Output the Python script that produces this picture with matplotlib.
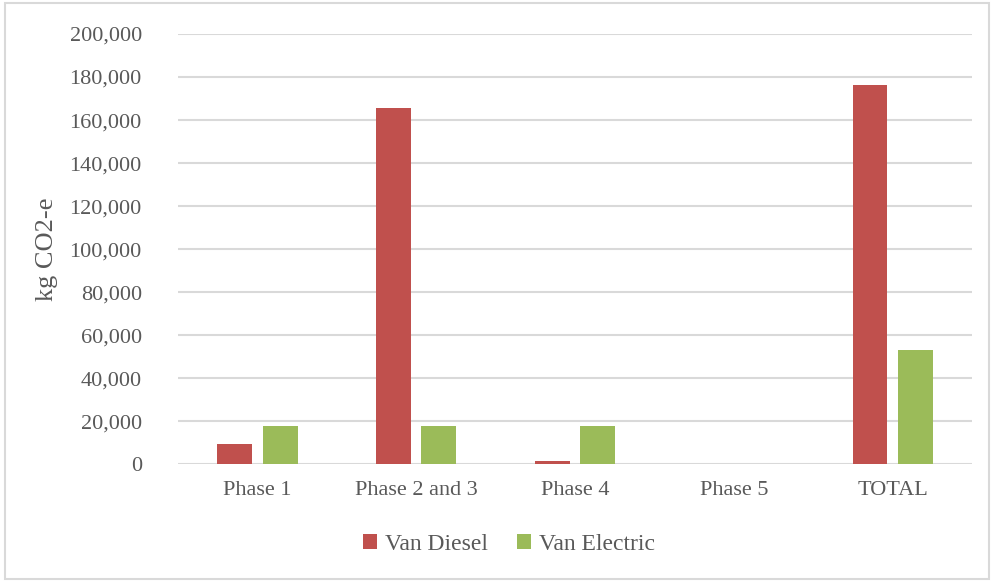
import numpy as np
import matplotlib.pyplot as plt
from matplotlib.patches import Rectangle
from matplotlib.ticker import FuncFormatter

# Emissions per phase (kg CO2-e)
phases = ['Phase 1', 'Phase 2 and 3', 'Phase 4', 'Phase 5', 'TOTAL']
van_diesel = [9300, 165600, 1500, 0, 176400]
van_electric = [17700, 17700, 17700, 0, 53100]

RED = '#c0504d'
GREEN = '#9bbb59'
GRID = '#d9d9d9'
TEXT = '#595959'

plt.rcParams['font.family'] = ['Liberation Serif', 'DejaVu Serif']

fig = plt.figure(figsize=(9.94, 5.82), dpi=100)

# outer chart border
fig.patches.append(Rectangle((0.005, 0.006), 0.99, 0.988, transform=fig.transFigure,
                             fill=False, edgecolor='#d9d9d9', linewidth=1.5))

ax = fig.add_axes([0.179, 0.2022, 0.799, 0.7394])

x = np.arange(len(phases))
w = 0.22
off = 0.143
ax.bar(x - off, van_diesel, w, color=RED, label='Van Diesel', zorder=3)
ax.bar(x + off, van_electric, w, color=GREEN, label='Van Electric', zorder=3)

ax.set_xlim(-0.5, len(phases) - 0.5)
ax.set_ylim(0, 200000)
ax.set_yticks(np.arange(0, 200001, 20000))
ax.yaxis.set_major_formatter(FuncFormatter(lambda v, p: f'{int(v):,}'))
ax.set_xticks(x)
ax.set_xticklabels(phases)

ax.grid(axis='y', color=GRID, linewidth=1.5, zorder=0)
ax.axhline(0, color='#d0d0d0', linewidth=2, zorder=1)
for s in ax.spines.values():
    s.set_visible(False)
ax.tick_params(axis='both', length=0, labelsize=16, colors=TEXT)
ax.tick_params(axis='y', pad=26)
ax.tick_params(axis='x', pad=12)

ax.set_ylabel('kg CO2-e', fontsize=19, color=TEXT, labelpad=8)

fig.legend(loc='center', bbox_to_anchor=(0.512, 0.064), ncol=2, frameon=False,
           fontsize=17, labelcolor=TEXT, handlelength=0.6, handleheight=0.6,
           handletextpad=0.35, columnspacing=1.2)

fig.savefig('out.png', dpi=100)
